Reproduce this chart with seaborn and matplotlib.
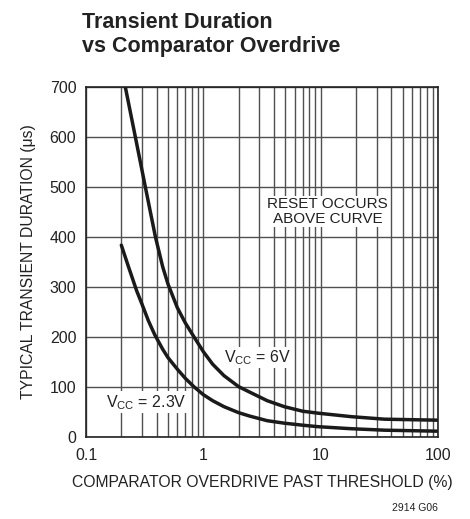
import matplotlib
matplotlib.use("Agg")
import matplotlib.pyplot as plt
import seaborn as sns
import pandas as pd
from matplotlib.ticker import FixedLocator, NullFormatter, FixedFormatter

sns.set_style("white")
plt.rcParams['font.family'] = ['Liberation Sans Narrow', 'Liberation Sans', 'DejaVu Sans']

# Data
x_6v = [0.216, 0.263, 0.32, 0.39, 0.45, 0.5, 0.6, 0.7, 0.83, 1.0, 1.2, 1.5, 2.0, 2.54, 3.5, 4.9, 7, 9.5, 18.3, 35, 100]
y_6v = [700, 600, 500, 400, 340, 305, 258, 228, 200, 170, 145, 122, 100, 88, 72, 60, 51, 47, 40, 35, 33]
x_23v = [0.2, 0.23, 0.27, 0.3, 0.34, 0.385, 0.45, 0.5, 0.6, 0.7, 0.83, 1.0, 1.2, 1.5, 2.0, 2.5, 3.5, 4.9, 7, 9.5, 18, 35, 100]
y_23v = [383, 340, 292, 265, 232, 204, 175, 158, 135, 117, 100, 84, 72, 60, 48, 41, 32, 27, 23, 20, 16, 13, 11]
x_ticks = [0.1, 1, 10, 100]
x_tick_labels = ["0.1", "1", "10", "100"]
y_ticks = [0, 100, 200, 300, 400, 500, 600, 700]

df = pd.concat([
    pd.DataFrame({"x": x_6v, "y": y_6v, "series": "6V"}),
    pd.DataFrame({"x": x_23v, "y": y_23v, "series": "2.3V"}),
])

fig = plt.figure(figsize=(4.7, 5.19), dpi=100)
ax = fig.add_axes([0.183, 0.1586, 0.749, 0.6744])

ax.set_xscale("log")
ax.set_xlim(0.1, 100)
ax.set_ylim(0, 700)

minors = [m * d for d in [0.1, 1, 10] for m in range(2, 10)]
ax.xaxis.set_major_locator(FixedLocator(x_ticks))
ax.xaxis.set_major_formatter(FixedFormatter(x_tick_labels))
ax.xaxis.set_minor_locator(FixedLocator(minors))
ax.xaxis.set_minor_formatter(NullFormatter())
ax.yaxis.set_major_locator(FixedLocator(y_ticks))

ax.grid(True, which="both", axis="x", color="#505050", lw=1.0)
ax.grid(True, which="major", axis="y", color="#505050", lw=1.0)
ax.set_axisbelow(True)

sns.lineplot(data=df, x="x", y="y", hue="series", palette=["#1a1a1a", "#1a1a1a"],
             linewidth=2.5, legend=False, ax=ax, sort=True, estimator=None)

for s in ax.spines.values():
    s.set_color("#222222")
    s.set_linewidth(1.2)

ax.tick_params(axis="both", which="both", length=0, labelsize=11.5, colors="#222222")
ax.tick_params(axis="x", pad=8)
ax.tick_params(axis="y", pad=7)
ax.set_xlabel("COMPARATOR OVERDRIVE PAST THRESHOLD (%)", fontsize=11.3, color="#222222", labelpad=9)
ax.set_ylabel("TYPICAL TRANSIENT DURATION (\u03bcs)", fontsize=11.3, color="#222222", labelpad=10)

bbox = dict(facecolor="white", edgecolor="none", pad=1.0)
ax.text(0.148, 69, r"V$_{\mathregular{CC}}$ = 2.3V", fontsize=11.5, color="#222222",
        ha="left", va="center", bbox=bbox)
ax.text(1.5, 158, r"V$_{\mathregular{CC}}$ = 6V", fontsize=11.5, color="#222222",
        ha="left", va="center", bbox=bbox)
ax.text(11.4, 450, "RESET OCCURS\nABOVE CURVE", fontsize=11, color="#222222",
        ha="center", va="center", linespacing=1.05, bbox=bbox)

fig.text(0.174, 1 - 28 / 519, "Transient Duration", fontsize=15.5,
         fontweight="bold", color="#222222", ha="left", va="baseline")
fig.text(0.174, 1 - 52 / 519, "vs Comparator Overdrive", fontsize=15.5,
         fontweight="bold", color="#222222", ha="left", va="baseline")
fig.text(0.932, 0.021, "2914 G06", fontsize=7.5, color="#222222", ha="right", va="center")

fig.savefig("out.png", dpi=100)
